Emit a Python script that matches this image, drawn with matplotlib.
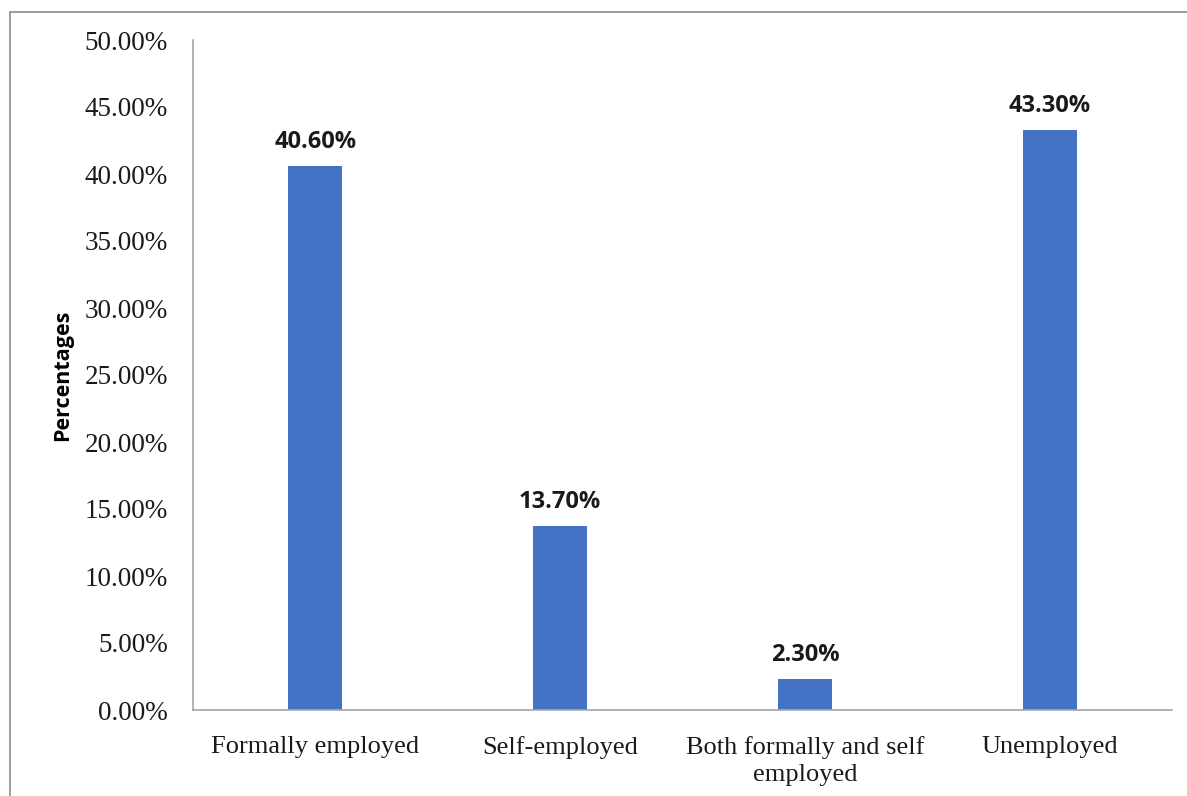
import numpy as np
import matplotlib.pyplot as plt
from matplotlib.patches import Rectangle

categories = ['Formally employed', 'Self-employed', 'Both formally and self\nemployed', 'Unemployed']
values = [40.6, 13.7, 2.3, 43.3]
yticks = np.arange(0, 51, 5)

fig = plt.figure(figsize=(11.87, 7.96), dpi=100)
# axes box: left spine ~x=193, x axis ends ~x=1172, 0% at y=710, 50% at y=40
ax = fig.add_axes([193 / 1187, 86 / 796, 979 / 1187, 670 / 796])

x = np.arange(len(categories))
ax.bar(x, values, width=0.22, color='#4472c4')

for xi, v in zip(x, values):
    ax.text(xi, v + 0.9, f'{v:.2f}%', ha='center', va='bottom',
            fontsize=17, fontweight='bold', family='Open Sans', color='#1a1a1a')

ax.set_xlim(-0.5, len(categories) - 0.5)
ax.set_ylim(0, 50)
ax.set_yticks(yticks)
ax.set_yticklabels([f'{t:.2f}%' for t in yticks], family='Liberation Serif', fontsize=19.5, color='#1a1a1a')
ax.set_xticks(x)
ax.set_xticklabels(categories, family='Liberation Serif', fontsize=19, linespacing=1.25, color='#1a1a1a')
ax.tick_params(length=0)
ax.tick_params(axis='y', pad=18)
ax.tick_params(axis='x', pad=19)

ax.set_ylabel('Percentages', family='Open Sans', fontweight='bold', fontsize=15.5, labelpad=8)

for s in ['top', 'right']:
    ax.spines[s].set_visible(False)
for s in ['left', 'bottom']:
    ax.spines[s].set_color('#a6a6a6')
    ax.spines[s].set_linewidth(1.2)

# outer chart border (only top/left visible in the crop)
fig.patches.append(Rectangle((10 / 1187, -0.1), 1.2, 1.1 - 12 / 796, transform=fig.transFigure,
                             fill=False, edgecolor='#8c8c8c', linewidth=1.2))

fig.savefig('out.png', dpi=100)
